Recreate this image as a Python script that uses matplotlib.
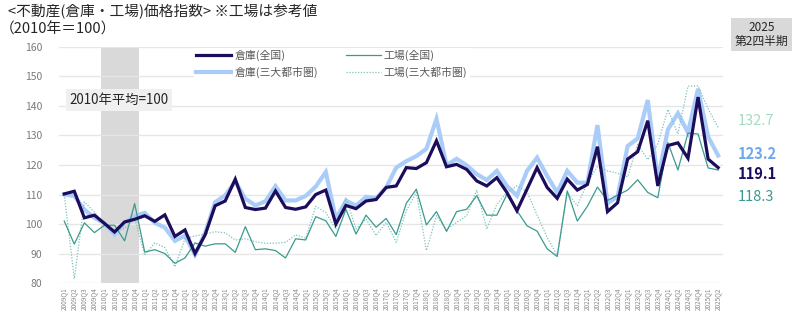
import matplotlib
matplotlib.use("Agg")
import matplotlib.pyplot as plt
import numpy as np

plt.rcParams['font.family'] = ['Noto Sans CJK JP', 'DejaVu Sans']

years = list(range(2009, 2026))
quarters = [f"{y}Q{q}" for y in years for q in range(1, 5)][:66]

warehouse_all = [110.2, 111.1, 102.1, 103.0, 100.2, 97.3, 100.7, 101.6, 102.8, 100.9,
                 103.1, 95.8, 98.0, 90.0, 96.3, 106.2, 107.8, 115.2, 105.6, 104.9,
                 105.4, 111.2, 105.6, 105.0, 105.8, 110.0, 111.5, 100.0, 106.3, 105.2,
                 107.8, 108.3, 112.4, 112.9, 119.1, 118.8, 120.8, 128.2, 119.4, 120.2,
                 118.5, 114.6, 112.9, 115.7, 110.7, 104.5, 111.8, 119.1, 112.4, 108.7,
                 115.2, 111.5, 113.4, 126.2, 104.2, 107.2, 122.0, 124.5, 135.0, 112.9,
                 126.6, 127.5, 122.3, 143.0, 122.0, 119.1]

warehouse_metro = [110.0, 109.5, 104.9, 102.1, 100.2, 96.5, 100.4, 102.7, 103.8, 100.4,
                   98.8, 94.3, 96.0, 89.6, 96.9, 107.4, 109.7, 114.4, 108.6, 106.3,
                   107.7, 112.8, 108.0, 108.0, 109.5, 112.7, 117.6, 101.7, 107.9, 106.2,
                   109.2, 108.7, 112.4, 119.1, 121.3, 123.0, 125.5, 135.6, 119.9, 122.1,
                   119.9, 116.9, 114.9, 118.0, 112.9, 109.6, 118.0, 122.5, 116.3, 110.7,
                   118.0, 114.0, 114.0, 133.5, 107.0, 109.3, 126.4, 129.0, 142.0, 115.0,
                   132.0, 137.5, 131.0, 145.8, 129.6, 123.2]

factory_all = [101.0, 93.2, 100.4, 97.1, 99.6, 99.6, 94.3, 106.9, 90.5, 91.3,
               90.0, 86.7, 88.5, 93.6, 92.5, 93.3, 93.3, 90.4, 99.1, 91.3,
               91.6, 91.0, 88.5, 95.0, 94.6, 102.5, 101.1, 95.8, 105.0, 96.6,
               103.0, 98.9, 101.9, 96.4, 107.0, 111.8, 99.7, 104.2, 97.5, 104.2,
               105.0, 109.6, 103.0, 103.0, 110.0, 104.5, 99.4, 97.6, 91.6, 89.0,
               111.2, 101.0, 106.0, 112.5, 108.0, 109.8, 111.5, 115.0, 110.7, 108.9,
               127.6, 118.3, 130.8, 130.5, 119.0, 118.3]

factory_metro = [110.0, 81.5, 107.5, 104.0, 100.0, 97.7, 98.5, 102.0, 89.5, 93.6,
                 92.0, 85.5, 95.0, 96.0, 96.6, 97.4, 97.0, 94.6, 95.0, 94.0,
                 93.5, 93.5, 93.8, 96.3, 95.2, 106.0, 103.9, 98.3, 109.0, 98.3,
                 101.7, 96.1, 100.6, 93.8, 104.5, 110.7, 91.0, 102.8, 98.0, 100.6,
                 102.8, 111.5, 98.3, 106.7, 110.7, 112.9, 111.0, 103.0, 95.5, 89.3,
                 110.7, 106.2, 114.0, 119.5, 118.0, 117.2, 116.0, 127.0, 121.8, 127.2,
                 138.8, 130.5, 146.7, 146.8, 139.0, 132.7]

series_names = ['倉庫(全国)', '倉庫(三大都市圏)', '工場(全国)', '工場(三大都市圏)']
yticks = [80, 90, 100, 110, 120, 130, 140, 150, 160]
base_label = '2010年平均=100'
title1 = '<不動産(倉庫・工場)価格指数> ※工場は参考値'
title2 = '（2010年＝100）'
period_label = '2025\n第2四半期'

c_dark = '#1c0c5c'
c_light = '#a9cdf8'
c_teal = '#3b9a8e'
c_dot = '#7cc3ba'

fig = plt.figure(figsize=(8.0, 3.28), dpi=100)
ax = fig.add_axes([0.074, 0.137, 0.830, 0.720])

x = np.arange(len(quarters))
ax.axvspan(3.7, 7.4, color='#d9d9d9', zorder=0, lw=0)

l_light, = ax.plot(x, warehouse_metro, color=c_light, lw=3.0, zorder=2, solid_joinstyle='miter')
l_dot, = ax.plot(x, factory_metro, color=c_dot, lw=0.9, ls=(0, (1, 1.3)), zorder=3)
l_teal, = ax.plot(x, factory_all, color=c_teal, lw=0.9, zorder=4)
l_dark, = ax.plot(x, warehouse_all, color=c_dark, lw=2.3, zorder=5, solid_joinstyle='miter')

ax.set_xlim(-0.5, len(quarters) - 0.5)
ax.set_ylim(80, 160)
ax.set_yticks(yticks)
ax.set_yticklabels([str(v) for v in yticks], fontsize=7.5, color='#7a7a7a')
ax.set_xticks(x)
ax.set_xticklabels(quarters, rotation=90, fontsize=4.6, color='#8a8a8a')
ax.tick_params(axis='both', length=0, pad=3)
ax.tick_params(axis='y', pad=12)
ax.grid(axis='y', color='#e6e6e6', lw=1.0, zorder=0)
ax.set_axisbelow(True)
for s in ax.spines.values():
    s.set_visible(False)

leg = ax.legend([l_dark, l_light, l_teal, l_dot], series_names, ncol=2,
                loc='upper left', bbox_to_anchor=(0.195, 1.02), fontsize=7.8,
                frameon=True, facecolor='white', edgecolor='none', framealpha=1,
                handlelength=3.2, handletextpad=0.3, columnspacing=2.6,
                labelspacing=0.55, borderpad=0.2)
for t in leg.get_texts():
    t.set_color('#595959')

ax.text(0.5, 142, base_label, fontsize=9.6, color='#262626', ha='left', va='center',
        bbox=dict(boxstyle='square,pad=0.28', facecolor='#f0f0f0', edgecolor='none'), zorder=6)

fig.text(0.010, 0.965, title1, fontsize=10.6, color='#262626', ha='left', va='center')
fig.text(0.000, 0.91, title2, fontsize=10.6, color='#262626', ha='left', va='center')
fig.text(0.952, 0.895, period_label, fontsize=8.5, color='#262626', ha='center', va='center',
         linespacing=1.0,
         bbox=dict(boxstyle='square,pad=0.3', facecolor='#d9d9d9', edgecolor='none'))

lab_x = 0.922
fig.text(lab_x, 1 - 121 / 328, f"{factory_metro[-1]:.1f}", fontsize=10.5, color='#a3dcc0', va='center')
fig.text(lab_x, 1 - 154 / 328, f"{warehouse_metro[-1]:.1f}", fontsize=10.5, color='#6aa8f0', va='center', fontweight='bold')
fig.text(lab_x, 1 - 174 / 328, f"{warehouse_all[-1]:.1f}", fontsize=10.5, color=c_dark, va='center', fontweight='bold')
fig.text(lab_x, 1 - 197 / 328, f"{factory_all[-1]:.1f}", fontsize=10.5, color=c_teal, va='center')

fig.savefig('out.png', dpi=100)
